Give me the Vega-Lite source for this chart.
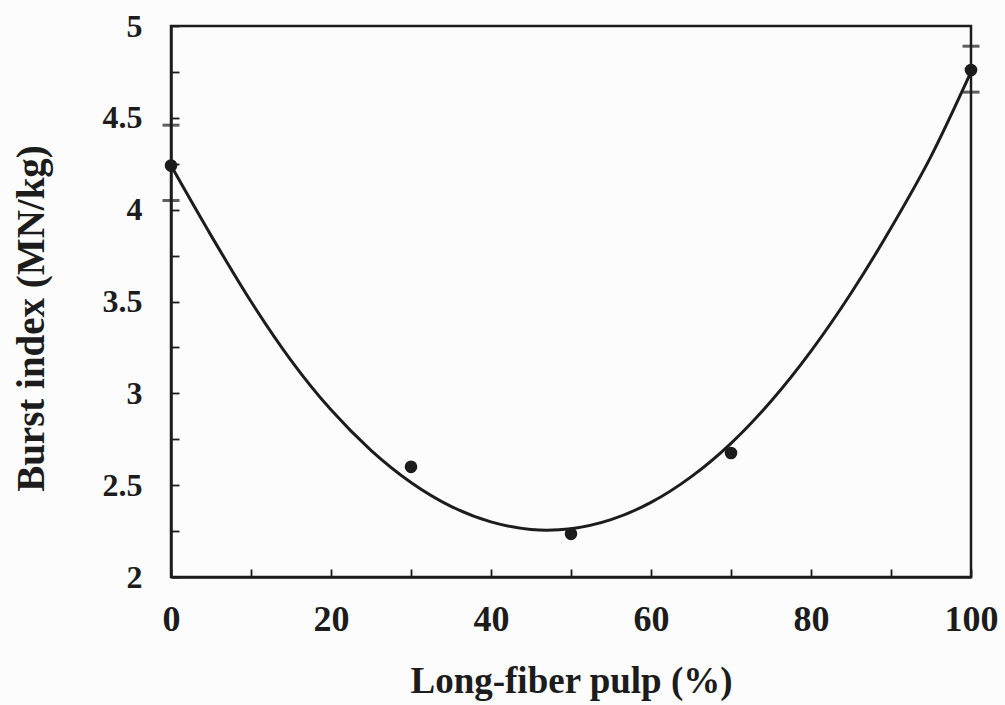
{
  "$schema": "https://vega.github.io/schema/vega-lite/v6.json",
  "width": 800,
  "height": 551,
  "autosize": {"type": "none"},
  "padding": {"left": 171, "top": 26, "right": 34, "bottom": 128},
  "background": "#fcfcfc",
  "config": {
    "view": {"stroke": "#1c1c1c", "strokeWidth": 2.5},
    "axis": {
      "labelFont": "Liberation Serif",
      "labelFontWeight": "bold",
      "labelColor": "#1c1c1c",
      "titleFont": "Liberation Serif",
      "titleFontWeight": "bold",
      "titleColor": "#1c1c1c",
      "domainColor": "#1c1c1c",
      "domainWidth": 2.5,
      "tickColor": "#1c1c1c",
      "tickWidth": 1.8,
      "tickSize": -8,
      "grid": false
    }
  },
  "datasets": {
    "curve": [
      {"pulp": 0, "burst": 4.24},
      {"pulp": 5, "burst": 3.86},
      {"pulp": 10, "burst": 3.5},
      {"pulp": 15, "burst": 3.18},
      {"pulp": 20, "burst": 2.91},
      {"pulp": 25, "burst": 2.69},
      {"pulp": 30, "burst": 2.515},
      {"pulp": 35, "burst": 2.385},
      {"pulp": 40, "burst": 2.3},
      {"pulp": 45, "burst": 2.259},
      {"pulp": 47, "burst": 2.255},
      {"pulp": 50, "burst": 2.263},
      {"pulp": 55, "burst": 2.312},
      {"pulp": 60, "burst": 2.406},
      {"pulp": 65, "burst": 2.545},
      {"pulp": 70, "burst": 2.728},
      {"pulp": 75, "burst": 2.957},
      {"pulp": 80, "burst": 3.23},
      {"pulp": 85, "burst": 3.545},
      {"pulp": 90, "burst": 3.9},
      {"pulp": 95, "burst": 4.29},
      {"pulp": 100, "burst": 4.75}
    ],
    "measured": [
      {"pulp": 0, "burst": 4.24, "low": 4.05, "high": 4.46},
      {"pulp": 30, "burst": 2.6},
      {"pulp": 50, "burst": 2.235},
      {"pulp": 70, "burst": 2.675},
      {"pulp": 100, "burst": 4.76, "low": 4.64, "high": 4.89}
    ]
  },
  "layer": [
    {
      "data": {"name": "curve"},
      "mark": {"type": "line", "interpolate": "monotone", "color": "#1c1c1c", "strokeWidth": 3},
      "encoding": {
        "x": {
          "field": "pulp",
          "type": "quantitative",
          "scale": {"domain": [0, 100], "nice": false},
          "axis": {
            "title": "Long-fiber pulp (%)",
            "titleFontSize": 37,
            "titleBaseline": "alphabetic",
            "titleY": 115,
            "values": [0, 10, 20, 30, 40, 50, 60, 70, 80, 90, 100],
            "labelExpr": "datum.value % 20 == 0 ? datum.label : ''",
            "labelFontSize": 36,
            "labelPadding": 33,
            "labelFlush": false
          }
        },
        "y": {
          "field": "burst",
          "type": "quantitative",
          "scale": {"domain": [2, 5], "nice": false, "zero": false},
          "axis": {
            "title": "Burst index (MN/kg)",
            "titleFontSize": 39,
            "titleX": -140,
            "titleY": 292,
            "titleBaseline": "middle",
            "values": [2, 2.25, 2.5, 2.75, 3, 3.25, 3.5, 3.75, 4, 4.25, 4.5, 4.75, 5],
            "labelExpr": "datum.value % 0.5 == 0 ? format(datum.value, '~g') : ''",
            "labelFontSize": 32,
            "labelPadding": 37,
            "labelFlush": false
          }
        }
      }
    },
    {
      "data": {"name": "measured"},
      "transform": [{"filter": "isValid(datum.low)"}],
      "mark": {"type": "rule", "color": "#1c1c1c", "strokeWidth": 2},
      "encoding": {
        "x": {"field": "pulp", "type": "quantitative"},
        "y": {"field": "low", "type": "quantitative"},
        "y2": {"field": "high"}
      }
    },
    {
      "data": {"name": "measured"},
      "transform": [{"filter": "isValid(datum.low)"}],
      "mark": {"type": "tick", "orient": "horizontal", "color": "#1c1c1c", "size": 17, "thickness": 3},
      "encoding": {
        "x": {"field": "pulp", "type": "quantitative"},
        "y": {"field": "low", "type": "quantitative"}
      }
    },
    {
      "data": {"name": "measured"},
      "transform": [{"filter": "isValid(datum.high)"}],
      "mark": {"type": "tick", "orient": "horizontal", "color": "#1c1c1c", "size": 17, "thickness": 3},
      "encoding": {
        "x": {"field": "pulp", "type": "quantitative"},
        "y": {"field": "high", "type": "quantitative"}
      }
    },
    {
      "data": {"name": "measured"},
      "mark": {"type": "point", "filled": true, "color": "#1c1c1c", "opacity": 1, "size": 160},
      "encoding": {
        "x": {"field": "pulp", "type": "quantitative"},
        "y": {"field": "burst", "type": "quantitative"}
      }
    }
  ]
}
